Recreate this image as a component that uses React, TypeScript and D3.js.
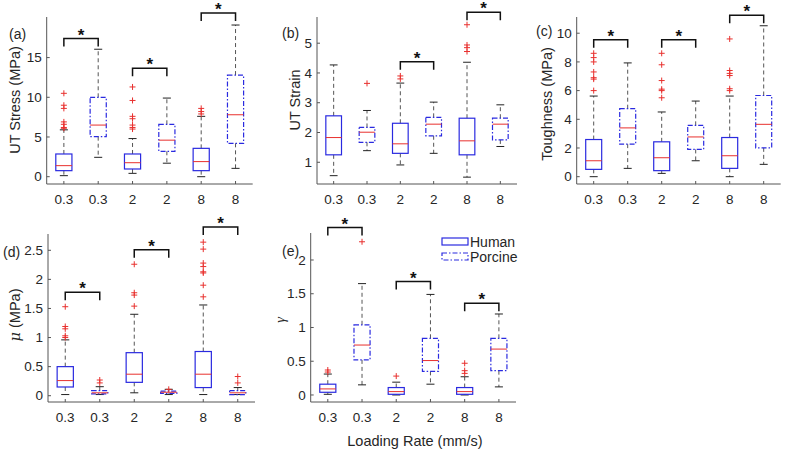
import React from 'react';
import * as d3 from 'd3';

const rates = ['0.3', '0.3', '2', '2', '8', '8'];
const species = ['Human', 'Porcine', 'Human', 'Porcine', 'Human', 'Porcine'];
const legendItems = ['Human', 'Porcine'];

// each box: [lower whisker, q1, median, q3, upper whisker]
const stressBoxes = [
  [0.13, 0.76, 1.39, 2.86, 5.9],
  [2.44, 5.04, 6.5, 10.0, 16.05],
  [0.42, 0.97, 1.76, 2.86, 4.8],
  [1.7, 3.2, 4.6, 6.6, 9.9],
  [0.0, 0.76, 1.9, 3.57, 7.6],
  [1.05, 4.2, 7.8, 12.8, 19.1],
];
const stressOutliers = [
  [10.5, 9.0, 8.6, 6.9, 6.6, 6.2, 6.1],
  [],
  [11.3, 9.6, 7.6, 7.3, 6.5, 6.2, 6.0],
  [],
  [8.6, 8.2, 7.9],
  [],
];
const stressBrackets = [[1, 2, 17.4], [3, 4, 13.65], [5, 6, 20.6]];
const stressTicks = [0, 5, 10, 15];

const strainBoxes = [
  [0.55, 1.25, 1.83, 2.56, 4.27],
  [1.39, 1.67, 2.01, 2.17, 2.74],
  [0.91, 1.3, 1.62, 2.31, 3.66],
  [1.3, 1.89, 2.28, 2.51, 3.02],
  [0.5, 1.25, 1.72, 2.48, 4.36],
  [1.53, 1.75, 2.28, 2.48, 2.93],
];
const strainOutliers = [[], [3.65], [3.9, 3.8], [], [5.62, 4.94, 4.85, 4.72], []];
const strainBrackets = [[3, 4, 4.38], [5, 6, 6.04]];
const strainTicks = [1, 2, 3, 4, 5];

const toughBoxes = [
  [0.0, 0.51, 1.11, 2.59, 5.62],
  [0.58, 2.27, 3.4, 4.74, 7.93],
  [0.23, 0.42, 1.32, 2.43, 4.51],
  [1.11, 1.9, 2.77, 3.58, 5.27],
  [0.0, 0.58, 1.46, 2.73, 5.62],
  [0.86, 2.01, 3.65, 5.66, 10.52],
];
const toughOutliers = [
  [8.6, 8.3, 8.0, 7.3, 6.9, 6.8, 6.0],
  [],
  [8.6, 7.8, 6.7, 6.1, 6.0, 5.5],
  [],
  [9.6, 7.4, 7.2, 7.05, 6.13, 6.0],
  [],
];
const toughBrackets = [[1, 2, 9.55], [3, 4, 9.55], [5, 6, 11.26]];
const toughTicks = [0, 2, 4, 6, 8, 10];

const muBoxes = [
  [0.02, 0.15, 0.26, 0.5, 0.96],
  [0.02, 0.03, 0.05, 0.086, 0.155],
  [0.05, 0.23, 0.37, 0.74, 1.4],
  [0.02, 0.04, 0.06, 0.08, 0.11],
  [0.02, 0.14, 0.37, 0.76, 1.56],
  [0.02, 0.02, 0.05, 0.086, 0.14],
];
const muOutliers = [
  [1.53, 1.19, 1.15, 1.03, 1.0],
  [0.27, 0.22],
  [2.26, 1.77, 1.73, 1.54],
  [0.11],
  [2.64, 2.52, 2.28, 2.22, 2.13, 2.11, 1.9, 1.7],
  [0.33, 0.22],
];
const muBrackets = [[1, 2, 1.78], [3, 4, 2.51], [5, 6, 2.9]];
const muTicks = [0, 0.5, 1, 1.5, 2, 2.5];

const gammaBoxes = [
  [0.01, 0.04, 0.09, 0.16, 0.31],
  [0.15, 0.52, 0.74, 1.04, 1.65],
  [0.0, 0.01, 0.05, 0.11, 0.19],
  [0.16, 0.35, 0.51, 0.84, 1.49],
  [0.0, 0.01, 0.05, 0.11, 0.27],
  [0.12, 0.36, 0.68, 0.84, 1.2],
];
const gammaOutliers = [[0.37, 0.34], [2.27], [0.28], [], [0.47, 0.36, 0.32], []];
const gammaBrackets = [[1, 2, 2.48], [3, 4, 1.68], [5, 6, 1.36]];
const gammaTicks = [0, 0.5, 1, 1.5, 2];

const FONT = "'Liberation Sans', Arial, Helvetica, sans-serif";
const TXT = '#262626';
const BLUE = '#2a2ae0';
const RED = '#e8302e';

const panels = [
  { id: 'a', tag: '(a)', ylabel: 'UT Stress (MPa)', boxes: stressBoxes, outliers: stressOutliers, brackets: stressBrackets, ticks: stressTicks,
    domain: [-0.92, 20.11], left: 46.7, right: 252.7, top: 17, bottom: 184, labelX: 15, labelY: 100, tagX: 9, tagY: 39 },
  { id: 'b', tag: '(b)', ylabel: 'UT Strain', boxes: strainBoxes, outliers: strainOutliers, brackets: strainBrackets, ticks: strainTicks,
    domain: [0.27, 5.88], left: 317, right: 517, top: 17, bottom: 184, labelX: 295, labelY: 100, tagX: 282, tagY: 38 },
  { id: 'c', tag: '(c)', ylabel: 'Toughness (MPa)', boxes: toughBoxes, outliers: toughOutliers, brackets: toughBrackets, ticks: toughTicks,
    domain: [-0.51, 11.13], left: 576.7, right: 780.7, top: 17, bottom: 184, labelX: 547, labelY: 104, tagX: 536, tagY: 36 },
  { id: 'd', tag: '(d)', ylabel: 'mu', boxes: muBoxes, outliers: muOutliers, brackets: muBrackets, ticks: muTicks,
    domain: [-0.108, 2.78], left: 48, right: 255, top: 234, bottom: 402, labelX: 15, labelY: 315, tagX: 3, tagY: 257 },
  { id: 'e', tag: '(e)', ylabel: 'gamma', boxes: gammaBoxes, outliers: gammaOutliers, brackets: gammaBrackets, ticks: gammaTicks,
    domain: [-0.104, 2.4], left: 310.7, right: 516, top: 233, bottom: 402, labelX: 280, labelY: 320, tagX: 282, tagY: 256 },
];

function YLabel({ p }: { p: any }) {
  const tr = `translate(${p.labelX},${p.labelY}) rotate(-90)`;
  if (p.ylabel === 'mu') {
    return (
      <text transform={tr} textAnchor="middle" dy="0.35em" fontSize={14.5} fill={TXT} fontFamily={FONT}>
        <tspan fontStyle="italic" fontFamily="'DejaVu Serif', serif">μ</tspan> (MPa)
      </text>
    );
  }
  if (p.ylabel === 'gamma') {
    return (
      <text transform={tr} textAnchor="middle" dy="0.35em" fontSize={14.5} fill={TXT} fontStyle="italic" fontFamily="'Liberation Serif', serif">γ</text>
    );
  }
  return (
    <text transform={tr} textAnchor="middle" dy="0.35em" fontSize={14.5} fill={TXT} fontFamily={FONT}>{p.ylabel}</text>
  );
}

function Panel({ p }: { p: any }) {
  const x = d3.scaleLinear().domain([0.5, 6.5]).range([p.left, p.right]);
  const y = d3.scaleLinear().domain(p.domain).range([p.bottom, p.top]);
  const bw = (x(2) - x(1)) * 0.47;
  const cw = bw / 2;
  return (
    <g>
      <line x1={p.left} x2={p.left} y1={p.top} y2={p.bottom} stroke="#555" strokeWidth={1} />
      <line x1={p.left} x2={p.right} y1={p.bottom} y2={p.bottom} stroke="#555" strokeWidth={1} />
      {p.ticks.map((t: number) => (
        <g key={'yt' + t}>
          <line x1={p.left} x2={p.left + 3} y1={y(t)} y2={y(t)} stroke="#555" />
          <text x={p.left - 5} y={y(t)} dy="0.35em" textAnchor="end" fontSize={13.5} fill={TXT} fontFamily={FONT}>{t}</text>
        </g>
      ))}
      {rates.map((r, i) => (
        <g key={'xt' + i}>
          <line x1={x(i + 1)} x2={x(i + 1)} y1={p.bottom} y2={p.bottom - 3} stroke="#555" />
          <text x={x(i + 1)} y={p.bottom + 20} textAnchor="middle" fontSize={13.5} fill={TXT} fontFamily={FONT}>{r}</text>
        </g>
      ))}
      {p.boxes.map((b: number[], i: number) => {
        const cx = x(i + 1);
        const [lo, q1, med, q3, hi] = b;
        const dashed = species[i] === 'Porcine';
        return (
          <g key={'bx' + i}>
            <line x1={cx} x2={cx} y1={y(q3)} y2={y(hi)} stroke="#555" strokeDasharray="4,3" />
            <line x1={cx} x2={cx} y1={y(q1)} y2={y(lo)} stroke="#555" strokeDasharray="4,3" />
            <line x1={cx - cw / 2} x2={cx + cw / 2} y1={y(hi)} y2={y(hi)} stroke="#222" />
            <line x1={cx - cw / 2} x2={cx + cw / 2} y1={y(lo)} y2={y(lo)} stroke="#222" />
            <rect x={cx - bw / 2} y={y(q3)} width={bw} height={Math.max(0.5, y(q1) - y(q3))} fill="none" stroke={BLUE}
              strokeWidth={1.2} strokeDasharray={dashed ? '5,2,1.5,2' : undefined} />
            <line x1={cx - bw / 2} x2={cx + bw / 2} y1={y(med)} y2={y(med)} stroke={RED} strokeWidth={1} />
            {p.outliers[i].map((o: number, k: number) => (
              <path key={k} d={`M${cx - 3},${y(o)}H${cx + 3}M${cx},${y(o) - 3}V${y(o) + 3}`} stroke={RED} strokeWidth={1} />
            ))}
          </g>
        );
      })}
      {p.brackets.map((br: number[], k: number) => {
        const x1 = x(br[0]);
        const x2 = x(br[1]);
        const by = y(br[2]);
        return (
          <g key={'br' + k}>
            <path d={`M${x1},${by + 8}V${by}H${x2}V${by + 8}`} fill="none" stroke="#111" strokeWidth={1.5} />
            <text x={(x1 + x2) / 2} y={by + 2} textAnchor="middle" fontSize={17} fontWeight="bold" fill="#111" fontFamily={FONT}>*</text>
          </g>
        );
      })}
      <YLabel p={p} />
      <text x={p.tagX} y={p.tagY} fontSize={14} fill={TXT} fontFamily={FONT}>{p.tag}</text>
    </g>
  );
}

export default function App() {
  return (
    <svg width={785} height={456} style={{ position: 'absolute', left: 0, top: 0, background: '#fff' }}>
      <rect width={785} height={456} fill="#fff" />
      {panels.map(p => <Panel key={p.id} p={p} />)}
      {legendItems.map((name, i) => (
        <g key={name} transform={`translate(442,${238 + i * 15})`}>
          <rect x={0} y={0} width={26} height={7} fill="none" stroke={BLUE} strokeWidth={1.2}
            strokeDasharray={name === 'Porcine' ? '5,2,1.5,2' : undefined} />
          <text x={28} y={9} fontSize={14} fill={TXT} fontFamily={FONT}>{name}</text>
        </g>
      ))}
      <text x={415} y={446} textAnchor="middle" fontSize={14.5} fill={TXT} fontFamily={FONT}>Loading Rate (mm/s)</text>
    </svg>
  );
}
